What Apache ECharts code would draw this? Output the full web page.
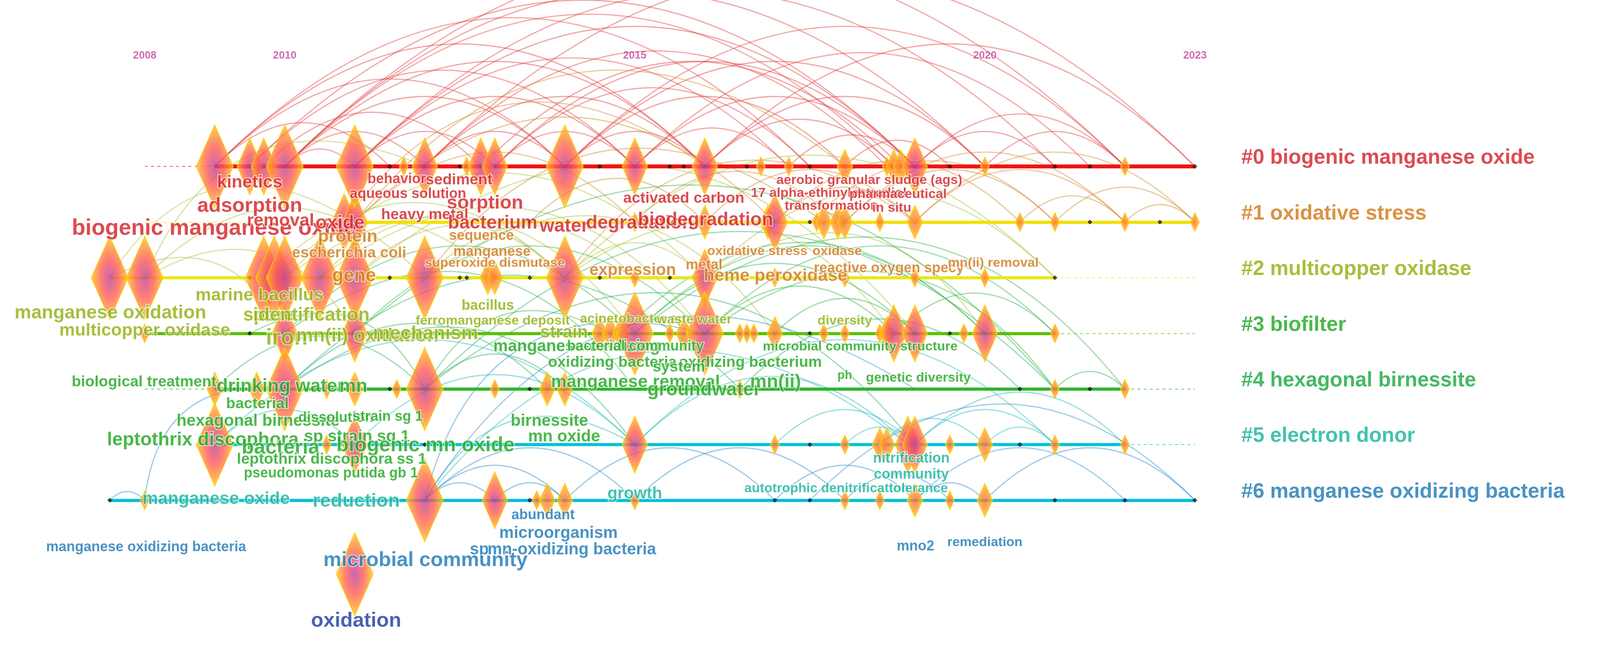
<!DOCTYPE html>
<html>
<head>
<meta charset="utf-8">
<script src="https://cdn.jsdelivr.net/npm/echarts@6/dist/echarts.min.js"></script>
<style>
  html, body { margin: 0; padding: 0; background: #fff; overflow: hidden; }
  #chart { width: 100vw; height: 100vh; }
</style>
</head>
<body>
<div id="chart"></div>
<script>
// 年份刻度
const yearTicks = [2008, 2010, 2015, 2020, 2023];

// 聚类名称（行号 0..6）
const clusterNames = ['#0 biogenic manganese oxide', '#1 oxidative stress', '#2 multicopper oxidase',
  '#3 biofilter', '#4 hexagonal birnessite', '#5 electron donor', '#6 manganese oxidizing bacteria'];
const clusterColors = ['#d21f26', '#cf7817', '#8fb00e', '#1ea61e', '#16a83c', '#15b39a', '#1b78b5'];
const lineColors = ['#f01414', '#f2e000', '#e8e81a', '#5cc00a', '#2eb52e', '#00c4dc', '#00c0dc'];
const arcColors = ['#e23b3b', '#d08a2a', '#a8c233', '#2eb340', '#25b060', '#24b8b8', '#2a8ac8'];

// 时间线区段 [行, 起, 止]
const solidSpans = [[0, 2009, 2023], [1, 2010.85, 2023], [2, 2007.5, 2021], [3, 2008, 2021],
  [4, 2009, 2022], [5, 2009, 2022], [6, 2007.5, 2023]];
const dashSpans = [[0, 2008, 2009], [1, 2008, 2010.85], [2, 2021, 2023], [3, 2021, 2023],
  [4, 2008, 2009], [4, 2022, 2023], [5, 2022, 2023]];

// 节点 [年份, 大小级别 0=点 1..4]
const nodes0 = [[2009,4],[2009.5,3],[2009.7,3],[2010,4],[2011,4],[2011.5,0],[2011.7,1],[2012,3],[2012.5,0],[2012.6,1],[2012.8,3],[2013,3],[2014,4],[2014.5,0],[2015,3],[2015.5,0],[2015.7,0],[2016,3],[2016.6,0],[2016.8,1],[2017.2,1],[2017.5,0],[2018,2],[2018.6,1],[2018.7,2],[2018.8,2],[2019,3],[2019.5,0],[2020,1],[2021,0],[2021.5,0],[2022,1],[2023,0]];
const nodes1 = [[2010.85,3],[2011,3],[2013.5,0],[2015,1],[2016,2],[2016.9,2],[2017,3],[2017.5,0],[2017.6,1],[2017.7,2],[2017.9,2],[2018,2],[2018.5,1],[2019,2],[2020.5,1],[2021,1],[2021.5,0],[2022,1],[2022.5,0],[2023,1]];
const nodes2 = [[2007.5,4],[2008,4],[2009.5,0],[2009.7,4],[2009.85,4],[2010,4],[2010.5,4],[2011,4],[2011.5,0],[2012,4],[2012.5,0],[2012.6,0],[2012.9,2],[2013,2],[2013.5,0],[2014,4],[2014.5,0],[2015,1],[2015.5,0],[2016,3],[2017,1],[2018,1],[2019,1],[2020,1],[2021,0]];
const nodes3 = [[2008,1],[2009.5,0],[2010,3],[2011,3],[2014.5,2],[2014.65,2],[2014.8,2],[2015,4],[2015.5,1],[2015.7,2],[2016,4],[2016.5,1],[2016.6,1],[2016.7,1],[2017,2],[2017.5,0],[2017.7,1],[2018,1],[2018.5,1],[2018.6,2],[2018.7,3],[2019,3],[2019.5,0],[2019.7,1],[2020,3],[2021,1]];
const nodes4 = [[2009,2],[2009.6,2],[2010,4],[2010.6,1],[2011,2],[2011.5,0],[2011.6,1],[2012,4],[2013,1],[2013.5,0],[2013.75,2],[2014,2],[2016.5,1],[2020.5,0],[2021,1],[2021.5,0],[2022,1]];
const nodes5 = [[2009,4],[2010.6,1],[2011,3],[2012,0],[2015,3],[2017,1],[2017.5,0],[2018,1],[2018.5,2],[2018.6,2],[2018.9,3],[2019,3],[2019.5,1],[2020,2],[2020.5,0],[2021,1],[2022,1]];
const nodes6 = [[2007.5,0],[2008,1],[2012,4],[2013,3],[2013.5,0],[2013.6,1],[2013.75,2],[2014,2],[2015,1],[2017,0],[2017.5,0],[2018,1],[2018.5,1],[2019,2],[2019.5,1],[2020,2],[2021,0],[2022,0],[2023,0]];
const extraNodes = [[2011, 7.33, 4]]; // microbial community 偏移节点

// 共现连线 [年1, 行1, 年2, 行2]
const links0 = [[2009,0,2014,0],[2009,0,2016,0],[2009,0,2017.5,0],[2009.5,0,2015,0],[2009.5,0,2019,0],[2010,0,2012,0],[2010,0,2014,0],[2010,0,2016,0],[2010,0,2018.7,0],[2010,0,2020,0],[2010,0,2022,0],[2011,0,2013,0],[2011,0,2015,0],[2011,0,2017.2,0],[2011,0,2019,0],[2011,0,2021,0],[2012,0,2014,0],[2012,0,2016,0],[2012,0,2018.6,0],[2012,0,2023,0],[2013,0,2015,0],[2013,0,2017.5,0],[2013,0,2019,0],[2014,0,2016,0],[2014,0,2018,0],[2014,0,2020,0],[2014,0,2022,0],[2015,0,2017.2,0],[2015,0,2019,0],[2015,0,2021.5,0],[2016,0,2018.7,0],[2016,0,2020,0],[2016,0,2023,0],[2017.2,0,2019,0],[2018,0,2019.5,0],[2019,0,2021,0],[2019,0,2022,0],[2020,0,2022,0],[2009,0,2011.5,0],[2010,0,2011,0],[2009.7,0,2012.8,0],[2012.8,0,2018.8,0]];
const links1 = [[2011,1,2015,1],[2011,1,2017,1],[2013.5,1,2016,1],[2015,1,2017.9,1],[2016,1,2019,1],[2017,1,2019,1],[2017,1,2020.5,1],[2017.5,1,2021,1],[2018,1,2021,1],[2018,1,2022,1],[2019,1,2022,1],[2020.5,1,2022,1],[2021,1,2023,1],[2022,1,2023,1],[2019,1,2023,1],[2010.85,1,2016,0],[2011,1,2018,0],[2014,2,2019,1],[2012,2,2017.7,1]];
const links2 = [[2007.5,2,2010,3],[2008,2,2011,3],[2009.7,2,2014,2],[2010,2,2015,3],[2010,2,2016,2],[2010.5,2,2016,3],[2011,2,2014,2],[2011,2,2019,3],[2012,2,2015,2],[2012,2,2017,3],[2014,2,2016,2],[2014,2,2018.7,3],[2014,2,2021,2],[2016,2,2020,3],[2016,2,2021,2],[2008,2,2012,0],[2007.5,2,2011,1],[2008,2,2012,2],[2009.85,2,2013,2],[2010.5,2,2014,2]];
const links3 = [[2010,3,2015,3],[2011,3,2016,3],[2011,3,2021,4],[2015,3,2019,3],[2015,3,2020,3],[2016,3,2018.7,3],[2016,3,2021,3],[2016,3,2021,4],[2017,3,2019,3],[2015,3,2022,4],[2018.7,3,2021,3],[2010,3,2015,4],[2012,4,2014.65,3],[2009.5,3,2012,4],[2014.8,3,2020,3]];
const links4 = [[2009,4,2012,4],[2010,4,2013.75,4],[2010,4,2016.5,4],[2012,4,2014,4],[2012,4,2021,4],[2016.5,4,2020.5,4],[2021,4,2022,4],[2012,4,2019,5],[2010,4,2015,5]];
const links5 = [[2009,5,2011,5],[2011,5,2015,5],[2015,5,2018.9,5],[2015,5,2021,5],[2017,5,2019,5],[2018,5,2019,5],[2018.5,5,2020,5],[2019,5,2021,5],[2019,5,2022,5],[2020,5,2021,5],[2012,6,2015,5],[2012,6,2018.9,5],[2009,5,2015,5]];
const links6 = [[2007.5,6,2008,6],[2012,6,2013,6],[2012,6,2014,6],[2013,6,2014,6],[2012,6,2015,6],[2014,6,2017,6],[2015,6,2018,6],[2017,6,2019,6],[2018,6,2019.5,6],[2019,6,2020,6],[2019,6,2022,6],[2020,6,2023,6],[2017.5,6,2023,6],[2008,6,2010,4],[2012,6,2019,4],[2012,6,2016,3]];

// 关键词标签 [文字, 年份, 行, 字号]
const labels0 = [['kinetics',2009.5,0.29,47],['adsorption',2009.5,0.71,55],['biogenic manganese oxide',2008.99,1.12,60],['removal',2009.94,0.98,47],['oxide',2010.79,1.02,50],['behavior',2011.6,0.23,38],['sediment',2012.49,0.25,41],['aqueous solution',2011.76,0.5,38],['sorption',2012.86,0.66,52],['heavy metal',2012.0,0.87,41],['bacterium',2012.97,1.02,50],['water',2013.99,1.08,50],['degradation',2015.07,1.02,50],['biodegradation',2016.01,0.97,50],['activated carbon',2015.7,0.58,41],['17 alpha-ethinylestradiol',2017.77,0.48,36],['pharmaceutical',2018.76,0.5,36],['aerobic granular sludge (ags)',2018.35,0.25,36],['transformation',2017.81,0.71,36],['in situ',2018.67,0.75,36]];
const labels1 = [['protein',2010.9,1.27,47],['escherichia coli',2010.92,1.56,41],['sequence',2012.81,1.25,38],['manganese',2012.96,1.54,38],['superoxide dismutase',2013.0,1.74,36],['gene',2010.99,1.97,50],['expression',2014.97,1.87,44],['metal',2015.99,1.78,38],['heme peroxidase',2017.01,1.97,47],['oxidative stress',2016.75,1.53,36],['oxidase',2017.89,1.53,36],['reactive oxygen specy',2018.63,1.83,38],['mn(ii) removal',2020.12,1.74,36]];
const labels2 = [['marine bacillus',2009.64,2.32,47],['manganese oxidation',2007.51,2.64,50],['spore',2009.77,2.68,50],['identification',2010.38,2.68,50],['multicopper oxidase',2008.0,2.95,47],['iron',2010.03,3.09,60],['mn(ii) oxidation',2011.18,3.05,52],['mechanism',2012.01,3.01,52],['bacillus',2012.9,2.51,38],['ferromanganese deposit',2012.97,2.78,36],['acinetobacter sp',2014.97,2.74,36],['waste water',2015.85,2.76,36],['strain',2013.99,2.99,47],['diversity',2018.0,2.78,36]];
const labels3 = [['manganese-oxidizing',2014.17,3.24,44],['bacterial community',2015.01,3.24,38],['oxidizing bacteria',2014.68,3.53,41],['oxidizing bacterium',2016.65,3.53,41],['system',2015.63,3.61,41],['microbial community structure',2018.22,3.24,36],['biological treatment',2007.99,3.88,41],['drinking water',2009.94,3.96,50],['mn',2010.98,3.96,50],['bacterial',2009.61,4.27,41],['manganese removal',2015.01,3.88,47],['groundwater',2015.99,4.02,50],['mn(ii)',2017.01,3.88,50],['ph',2018.0,3.76,33],['genetic diversity',2019.05,3.8,36],['hexagonal birnessite',2009.62,4.58,44],['dissolution',2010.73,4.52,38],['strain sg 1',2011.47,4.5,38],['leptothrix discophora',2008.83,4.92,50],['sp strain sg 1',2011.03,4.86,44],['bacteria',2009.94,5.06,55],['biogenic mn oxide',2012.01,5.02,55],['leptothrix discophora ss 1',2010.67,5.27,41],['pseudomonas putida gb 1',2010.66,5.52,38],['birnessite',2013.78,4.58,44],['mn oxide',2013.99,4.86,44]];
const labels5 = [['nitrification',2018.95,5.25,38],['community',2018.95,5.54,38],['autotrophic denitrification',2017.74,5.79,36],['tolerance',2019.05,5.79,36],['manganese oxide',2009.02,5.98,47],['reduction',2011.02,6.02,52],['growth',2015.0,5.89,44]];
const labels6 = [['abundant',2013.69,6.27,38],['microorganism',2013.91,6.6,44],['sp',2012.78,6.89,44],['mn-oxidizing bacteria',2014.1,6.89,44],['manganese oxidizing bacteria',2008.02,6.85,38],['microbial community',2012.01,7.08,55],['mno2',2019.01,6.83,38],['remediation',2020.0,6.76,36]];
const labelsDark = [['oxidation',2011.02,8.17,55]];

document.addEventListener('DOMContentLoaded', () => {
  const chart = echarts.init(document.getElementById('chart'), null, { renderer: 'canvas' });
  const font = "'Liberation Sans Narrow', 'Arial Narrow', 'Liberation Sans', sans-serif";
  const s = chart.getWidth() / 4310; // 视口缩放
  const px = v => Math.round(v * s);
  const clear = 'rgba(0,0,0,0)';

  // 节点尺寸与渐变
  const sizes = [[12, 12], [24, 52], [42, 92], [68, 155], [100, 225]];
  const grad = k => k === 0 ? '#222' : new echarts.graphic.RadialGradient(0.5, 0.5, 0.5, k >= 3
    ? [{ offset: 0, color: '#b8409a' }, { offset: 0.45, color: '#ff5a55' }, { offset: 0.8, color: '#ffa030' }, { offset: 1, color: '#ffd400' }]
    : [{ offset: 0, color: '#ff6a40' }, { offset: 0.6, color: '#ffa028' }, { offset: 1, color: '#ffd000' }]);

  const nodeRows = [nodes0, nodes1, nodes2, nodes3, nodes4, nodes5, nodes6];
  const nodeData = [];
  nodeRows.forEach((row, r) => row.forEach(([yr, k]) => nodeData.push({ value: [yr, r], k })));
  extraNodes.forEach(([yr, r, k]) => nodeData.push({ value: [yr, r], k }));
  nodeData.sort((a, b) => a.k - b.k);
  const nodeItems = nodeData.map(d => ({
    value: d.value, symbolSize: sizes[d.k].map(px),
    itemStyle: { color: grad(d.k), borderColor: d.k === 0 ? '#000' : '#ffd400', borderWidth: d.k === 0 ? 1 : 2 }
  }));

  const series = [];

  // 连线（弧线）
  [links0, links1, links2, links3, links4, links5, links6].forEach((links, r) => {
    series.push({
      type: 'lines', coordinateSystem: 'cartesian2d', z: 1, silent: true,
      lineStyle: { color: arcColors[r], width: px(3), opacity: 0.45, curveness: 0.5 },
      data: links.map(([a, ra, b, rb]) => ({ coords: [[a, ra], [b, rb]] }))
    });
  });

  // 时间线
  series.push({
    type: 'lines', coordinateSystem: 'cartesian2d', z: 2, silent: true,
    data: solidSpans.map(([r, a, b]) => ({ coords: [[a, r], [b, r]], lineStyle: { color: lineColors[r], width: px(r === 0 ? 10 : 8), opacity: 1, curveness: 0 } }))
  });
  series.push({
    type: 'lines', coordinateSystem: 'cartesian2d', z: 2, silent: true,
    data: dashSpans.map(([r, a, b]) => ({ coords: [[a, r], [b, r]], lineStyle: { color: lineColors[r], width: 2, type: [8, 8], opacity: 0.7, curveness: 0 } }))
  });

  // 节点
  series.push({ type: 'scatter', symbol: 'diamond', z: 3, silent: true, data: nodeItems });

  // 文字标签
  const addLabels = (list, color) => series.push({
    type: 'scatter', symbolSize: 1, z: 4, silent: true, itemStyle: { color: clear },
    label: { show: true, position: 'inside', color, fontFamily: font, fontWeight: 'bold',
      textBorderColor: 'rgba(255,255,255,0.85)', textBorderWidth: px(4), formatter: p => p.name },
    data: list.map(([t, yr, r, fs]) => ({ name: t, value: [yr, r], label: { fontSize: px(fs) } }))
  });
  addLabels(labels0, clusterColors[0]);
  addLabels(labels1, clusterColors[1]);
  addLabels(labels2, clusterColors[2]);
  addLabels(labels3, clusterColors[3]);
  addLabels(labels5, clusterColors[5]);
  addLabels(labels6, clusterColors[6]);
  addLabels(labelsDark, '#1e3a9c');

  // 聚类名称
  series.push({
    type: 'scatter', symbolSize: 1, z: 5, silent: true, itemStyle: { color: clear },
    data: clusterNames.map((n, r) => ({ name: n, value: [2023.66, r - 0.15],
      label: { show: true, position: 'right', distance: 0, color: clusterColors[r], fontSize: px(56),
        fontWeight: 'bold', fontFamily: font, formatter: p => p.name } }))
  });

  // 年份
  series.push({
    type: 'scatter', symbolSize: 1, z: 5, silent: true, itemStyle: { color: clear },
    label: { show: true, position: 'inside', color: '#c4469e', fontSize: px(28), fontWeight: 'bold', fontFamily: font, formatter: p => p.name },
    data: yearTicks.map(y => ({ name: String(y), value: [y, -1.99] }))
  });

  chart.setOption({
    animation: false,
    backgroundColor: '#ffffff',
    grid: { left: 0, right: 0, top: 0, bottom: 0 },
    xAxis: { type: 'value', min: 2005.933, max: 2028.786, show: false },
    yAxis: { type: 'value', min: -2.992, max: 8.602, inverse: true, show: false },
    series
  });

  window.addEventListener('resize', () => chart.resize());
});
</script>
</body>
</html>
